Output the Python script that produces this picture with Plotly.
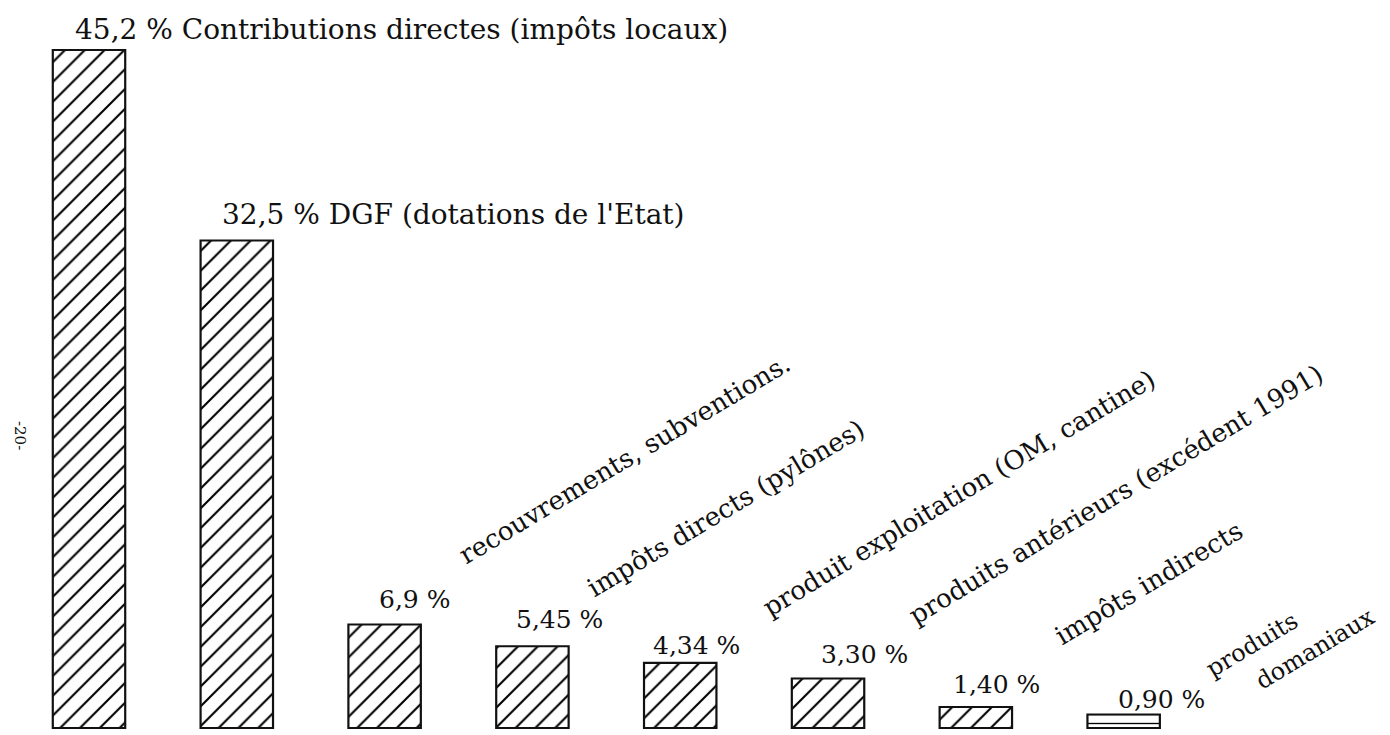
import plotly.graph_objects as go

# ---- data ----
categories = [
    "Contributions directes (impôts locaux)",
    "DGF (dotations de l'Etat)",
    "recouvrements, subventions.",
    "impôts directs (pylônes)",
    "produit exploitation (OM, cantine)",
    "produits antérieurs (excédent 1991)",
    "impôts indirects",
    "produits domaniaux",
]
values = [45.2, 32.5, 6.9, 5.45, 4.34, 3.30, 1.40, 0.90]
value_labels = ["45,2 %", "32,5 %", "6,9 %", "5,45 %", "4,34 %", "3,30 %", "1,40 %", "0,90 %"]

FONT = "DejaVu Serif"
INK = "#111111"

x_idx = list(range(len(categories)))

fig = go.Figure()
fig.add_trace(go.Bar(
    x=x_idx,
    y=values,
    width=0.49,
    marker=dict(
        color="white",
        line=dict(color=INK, width=2.2),
        pattern=dict(
            shape=["/"] * 7 + ["-"],
            size=[14] * 7 + [9],
            solidity=0.15,
            fgcolor="#000000",
            fgopacity=1,
            bgcolor="white",
            fillmode="replace",
        ),
    ),
    hoverinfo="skip",
    showlegend=False,
))

annotations = []

# horizontal labels for the two big bars: "value % category"
big_shifts = [(-16, 21), (-17, 26)]
for i in (0, 1):
    annotations.append(dict(
        x=x_idx[i], y=values[i], xref="x", yref="y",
        text=f"{value_labels[i]} {categories[i]}",
        showarrow=False, xanchor="left", yanchor="middle",
        xshift=big_shifts[i][0], yshift=big_shifts[i][1],
        font=dict(family=FONT, size=28, color=INK),
    ))

# value labels for the small bars
val_shifts = {2: (30, 25), 3: (27, 27), 4: (16, 17), 5: (36, 24), 6: (21, 23), 7: (38, 15)}
for i, (dx, dy) in val_shifts.items():
    annotations.append(dict(
        x=x_idx[i], y=values[i], xref="x", yref="y",
        text=value_labels[i], showarrow=False,
        xanchor="center", yanchor="middle", xshift=dx, yshift=dy,
        font=dict(family=FONT, size=25, color=INK),
    ))

# rotated category labels: (bar index, text, dx, dy, font size)
rot_specs = [
    (2, categories[2], 240, 166, 26),
    (3, categories[3], 194, 138, 26),
    (4, categories[4], 279, 170, 26),
    (5, categories[5], 287, 184, 26),
    (6, categories[6], 173, 124, 26),
    (7, "produits", 128, 70, 24),
    (7, "domaniaux", 191, 66, 24),
]
for i, txt, dx, dy, fs in rot_specs:
    annotations.append(dict(
        x=x_idx[i], y=values[i], xref="x", yref="y",
        text=txt, showarrow=False, textangle=-31,
        xanchor="center", yanchor="middle", xshift=dx, yshift=dy,
        font=dict(family=FONT, size=fs, color=INK),
    ))

# page number at the left margin
annotations.append(dict(
    x=12 / 1382, y=1 - 427 / 727, xref="paper", yref="paper",
    text="-20-", showarrow=False, textangle=90,
    xanchor="center", yanchor="middle",
    font=dict(family=FONT, size=15, color=INK),
))

fig.update_layout(
    width=1382, height=727,
    margin=dict(l=0, r=0, t=0, b=0),
    paper_bgcolor="white", plot_bgcolor="white",
    bargap=0.5,
    xaxis=dict(range=[-0.548, 8.802], visible=False, fixedrange=True),
    yaxis=dict(range=[-0.467, 48.0], visible=False, fixedrange=True),
    annotations=annotations,
)

fig.write_html("out.html")
